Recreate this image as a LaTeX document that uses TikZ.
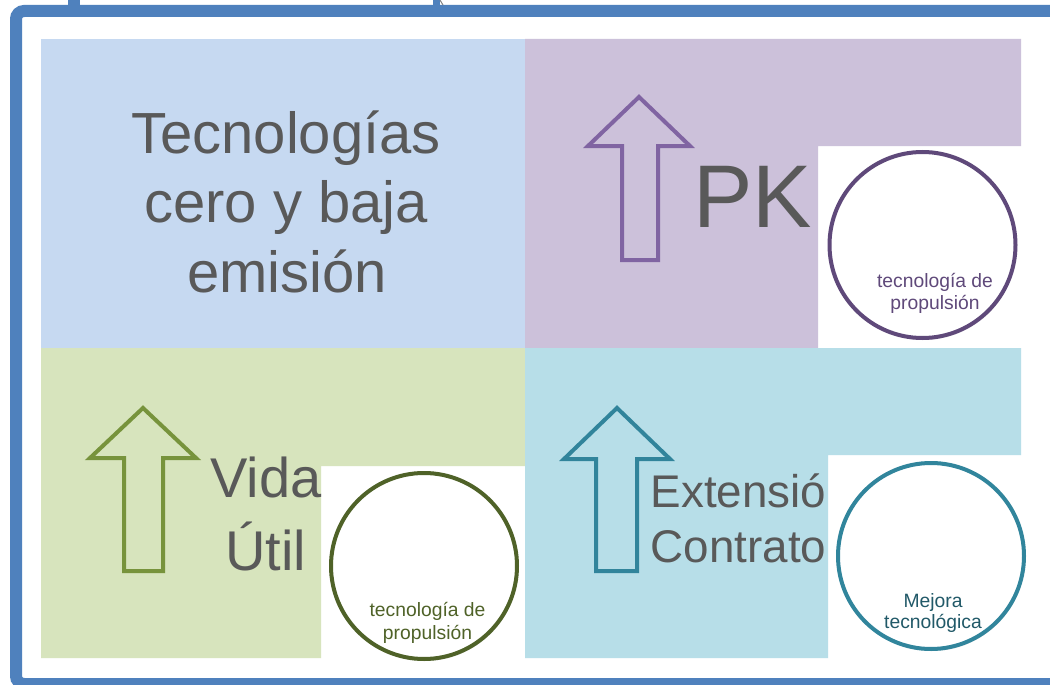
\documentclass[tikz,border=0pt]{standalone}
\usepackage{fontspec}
\setmainfont{Liberation Sans}
\usetikzlibrary{shadows}
\definecolor{frameblue}{HTML}{4F81BD}
\definecolor{qblue}{HTML}{C6D9F1}
\definecolor{qpurple}{HTML}{CCC1DA}
\definecolor{qgreen}{HTML}{D7E4BD}
\definecolor{qteal}{HTML}{B7DEE8}
\definecolor{arpurple}{HTML}{8064A2}
\definecolor{argreen}{HTML}{77933C}
\definecolor{arteal}{HTML}{31849B}
\definecolor{cpurple}{HTML}{5F497A}
\definecolor{cgreen}{HTML}{4F6228}
\definecolor{cteal}{HTML}{31859C}
\definecolor{tteal}{HTML}{215968}
\definecolor{txtgray}{HTML}{595959}
\tikzset{
  uparrow/.style={line width=4pt, line join=miter},
  ring/.style={circle, draw, line width=4pt, fill=white, minimum size=186pt, inner sep=0pt,
    drop shadow={opacity=0.18, shadow xshift=1pt, shadow yshift=-2pt}},
  bigtxt/.style={text=txtgray, inner sep=0pt, anchor=base},
  smalltxt/.style={inner sep=0pt, anchor=base, font=\fontsize{19.3}{23}\selectfont}
}
\begin{document}
\begin{tikzpicture}[x=1pt,y=-1pt]
\useasboundingbox (0,0) rectangle (1050,685);
\fill[white] (0,0) rectangle (1050,685);
% frame
\draw[frameblue, line width=12pt, rounded corners=8pt] (1070,11) -- (16,11) -- (16,684) -- (1070,684);
\fill[frameblue] (68,0) rectangle (80,6);
\fill[frameblue] (433,0) rectangle (440,6);
\draw[gray, line width=1pt] (440,0) -- (443,5);
% quadrants
\fill[qblue] (41,39) rectangle (525,348);
\fill[qpurple] (525,39) -- (1021,39) -- (1021,146) -- (818,146) -- (818,348) -- (525,348) -- cycle;
\fill[qgreen] (41,348) -- (525,348) -- (525,466) -- (321,466) -- (321,658) -- (41,658) -- cycle;
\fill[qteal] (525,348) -- (1021,348) -- (1021,455) -- (828,455) -- (828,658) -- (525,658) -- cycle;
% arrows
\draw[uparrow, arpurple] (639,97) -- (690,146) -- (658,146) -- (658,260) -- (622,260) -- (622,146) -- (588,146) -- cycle;
\draw[uparrow, argreen] (143,408) -- (196,458) -- (163,458) -- (163,571) -- (124,571) -- (124,458) -- (90,458) -- cycle;
\draw[uparrow, arteal] (617,408) -- (670,459) -- (637,459) -- (637,571) -- (596,571) -- (596,459) -- (564,459) -- cycle;
% big texts
\node[bigtxt, font=\fontsize{58}{69}\selectfont] (t1) at (286,153) {Tecnologías};
\node[bigtxt, font=\fontsize{58}{69}\selectfont] (t2) at (286,222) {cero y baja};
\node[bigtxt, font=\fontsize{58}{69}\selectfont] (t3) at (287,292) {emisión};
\node[bigtxt, anchor=base west, font=\fontsize{89}{100}\selectfont] (pk) at (693,227) {PK};
\node[bigtxt, font=\fontsize{56}{67}\selectfont] (vida) at (266,497) {Vida};
\node[bigtxt, font=\fontsize{56}{67}\selectfont] (util) at (266,570) {Útil};
\node[bigtxt, anchor=base west, font=\fontsize{45.8}{54}\selectfont] (ext) at (650.5,507) {Extensió};
\node[bigtxt, anchor=base west, font=\fontsize{45.8}{54}\selectfont] (con) at (650.5,562) {Contrato};
% circles
\node[ring, draw=cpurple] (c1) at (922.5,245) {};
\node[ring, draw=cgreen] (c2) at (424,566) {};
\node[ring, draw=cteal] (c3) at (931,556) {};
\node[smalltxt, text=cpurple] (c1a) at (935,287) {tecnología de};
\node[smalltxt, text=cpurple] (c1b) at (935,309) {propulsión};
\node[smalltxt, text=cgreen] (c2a) at (427.5,616) {tecnología de};
\node[smalltxt, text=cgreen] (c2b) at (427.5,639) {propulsión};
\node[smalltxt, text=tteal] (c3a) at (933,607) {Mejora};
\node[smalltxt, text=tteal] (c3b) at (933,628) {tecnológica};
\end{tikzpicture}
\end{document}
